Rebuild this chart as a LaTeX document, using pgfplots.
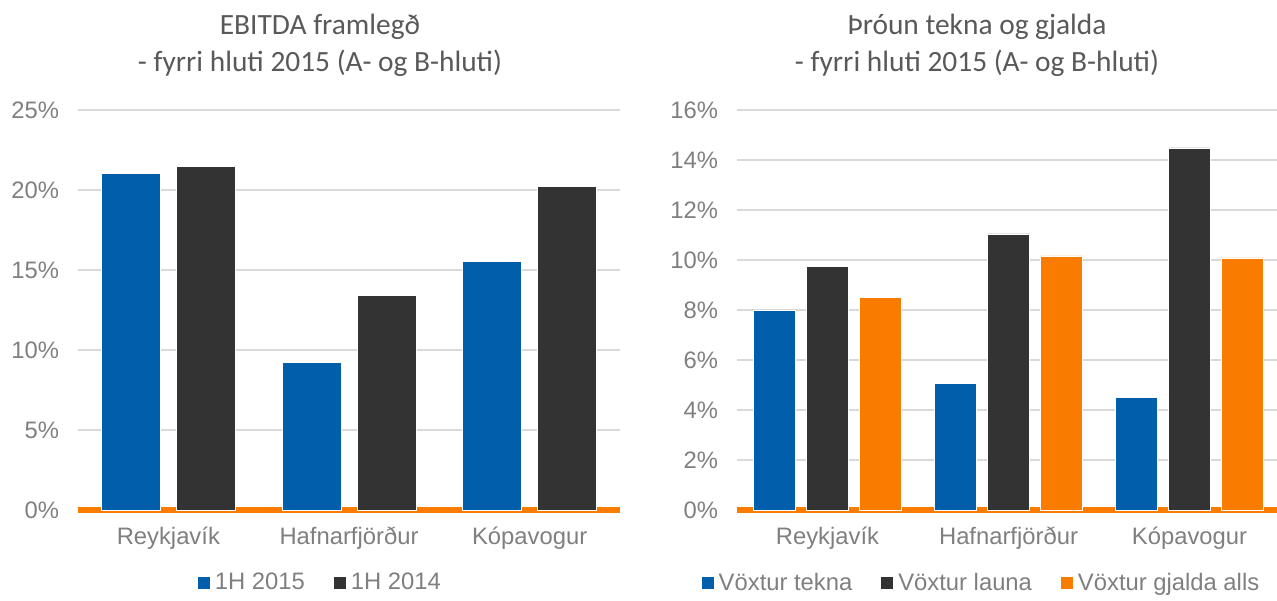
\documentclass[border=0pt]{standalone}
\usepackage{pgfplots}
\pgfplotsset{compat=1.18}
\usepackage{fontspec}
\setmainfont{Liberation Sans}
\newfontfamily\titlefont{Carlito}
\definecolor{barblue}{HTML}{005EAA}
\definecolor{bardark}{HTML}{333333}
\definecolor{barorange}{HTML}{F97B00}
\definecolor{gridgray}{HTML}{D9D9D9}
\definecolor{labelgray}{HTML}{7F7F7F}
\definecolor{titlegray}{HTML}{595959}

\pgfplotsset{
  sq/.style={legend image code/.code={\fill[##1, draw=none] (0pt,-3pt) rectangle (6pt,3pt);}},
  cmpstyle/.style={
    scale only axis, height=200pt, ybar,
    ymin=0,
    xmin=-0.5, xmax=2.5, xtick={0,1,2},
    xticklabels={Reykjavík, Hafnarfjörður, Kópavogur},
    axis x line*=bottom, axis y line*=left,
    axis line style={-},
    x axis line style={draw=barorange, line width=2.6pt},
    y axis line style={draw=none},
    major tick length=0pt,
    ymajorgrids, grid style={draw=gridgray, line width=0.8pt},
    tick label style={font=\fontsize{11.9}{14}\selectfont, text=labelgray},
    xticklabel style={yshift=-5pt},
    yticklabel style={xshift=-6pt},
    legend style={draw=none, fill=none, anchor=center,
      font=\fontsize{11.9}{14}\selectfont, text=labelgray,
      legend columns=-1, inner sep=0pt,
      nodes={inner sep=2.5pt},
      /tikz/every even column/.append style={column sep=12pt}},
  },
}

\begin{document}
\begin{tikzpicture}
\path[use as bounding box] (0,0) rectangle (638.5pt,300pt);

% left panel
\begin{axis}[cmpstyle, at={(39pt,45pt)}, anchor=south west, width=271pt,
  ymax=25, ytick={0,5,10,15,20,25},
  yticklabels={0\%,5\%,10\%,15\%,20\%,25\%},
  bar width=29.5pt, ybar=8pt,
  legend style={at={(0.45,-0.1825)}}]
\addplot[sq, fill=barblue, draw=white, line width=0.4pt]
  coordinates {(0,21.05) (1,9.2) (2,15.55)};
\addplot[sq, fill=bardark, draw=white, line width=0.4pt]
  coordinates {(0,21.5) (1,13.4) (2,20.25)};
\legend{1H 2015, 1H 2014}
\end{axis}

% right panel
\begin{axis}[cmpstyle, at={(368.5pt,45pt)}, anchor=south west, width=271.5pt,
  ymax=16, ytick={0,2,...,16},
  yticklabels={0\%,2\%,4\%,6\%,8\%,10\%,12\%,14\%,16\%},
  bar width=21pt, ybar=5.5pt,
  legend style={at={(0.453,-0.1825)}}]
\addplot[sq, fill=barblue, draw=white, line width=0.4pt]
  coordinates {(0,8.0) (1,5.08) (2,4.52)};
\addplot[sq, fill=bardark, draw=white, line width=0.4pt]
  coordinates {(0,9.76) (1,11.04) (2,14.48)};
\addplot[sq, fill=barorange, draw=white, line width=0.4pt]
  coordinates {(0,8.52) (1,10.16) (2,10.08)};
\legend{Vöxtur tekna, Vöxtur launa, Vöxtur gjalda alls}
\end{axis}

% titles
\begin{scope}[every node/.style={anchor=base, text=titlegray,
    font=\titlefont\fontsize{14.7}{18}\selectfont, inner sep=0pt}]
\node at (160pt,282.5pt) {EBITDA framlegð};
\node at (160pt,264pt) {- fyrri hluti 2015 (A- og B-hluti)};
\node at (488.5pt,282.5pt) {Þróun tekna og gjalda};
\node at (488.5pt,264pt) {- fyrri hluti 2015 (A- og B-hluti)};
\end{scope}
\end{tikzpicture}
\end{document}
